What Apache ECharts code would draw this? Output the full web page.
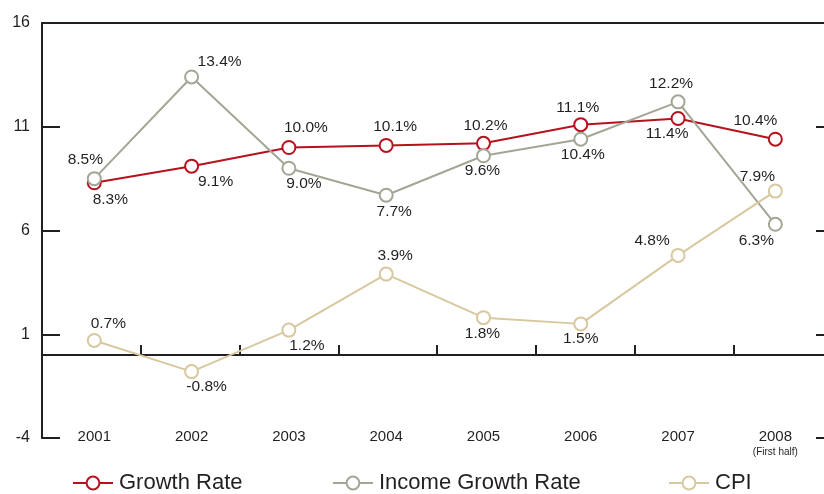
<!DOCTYPE html>
<html>
<head>
<meta charset="utf-8">
<script src="https://cdn.jsdelivr.net/npm/echarts@6/dist/echarts.min.js"></script>
<style>
  html, body { margin: 0; padding: 0; background: #fff; }
  #chart { width: 824px; height: 494px; }
</style>
</head>
<body>
<div id="chart"></div>
<script>
// ---- data ----
const years = ['2001', '2002', '2003', '2004', '2005', '2006', '2007', '2008'];
const yearNotes = ['', '', '', '', '', '', '', '(First half)'];
const growthRate = [8.3, 9.1, 10.0, 10.1, 10.2, 11.1, 11.4, 10.4];
const incomeGrowthRate = [8.5, 13.4, 9.0, 7.7, 9.6, 10.4, 12.2, 6.3];
const cpi = [0.7, -0.8, 1.2, 3.9, 1.8, 1.5, 4.8, 7.9];
const yMin = -4, yMax = 16, yStep = 5;
const seriesNames = ['Growth Rate', 'Income Growth Rate', 'CPI'];

// ---- label placement (pixel offsets from each marker) ----
const growthOffsets = [[16,17],[24,16],[17,-20],[9,-19],[2,-18],[-3,-17],[-11,15],[-20,-18]];
const incomeOffsets = [[-9,-19],[28,-15],[15,15],[8,16],[-1,15],[2,16],[-7,-18],[-19,16]];
const cpiOffsets = [[14,-17],[15,15],[18,16],[9,-18],[-1,16],[0,15],[-26,-15],[-18,-14]];

const colors = ['#B5121E', '#A5A596', '#D8C89F'];
const ink = '#231F20';
const font = '"Liberation Sans", Arial, Helvetica, sans-serif';

function buildData(values, offsets) {
  return values.map((v, i) => ({ value: v, label: { offset: offsets[i] } }));
}

function makeSeries(name, values, offsets, color) {
  return {
    name: name,
    type: 'line',
    xAxisIndex: 2,
    yAxisIndex: 2,
    data: buildData(values, offsets),
    symbol: 'emptyCircle',
    symbolSize: 13,
    itemStyle: { color: color, borderWidth: 2 },
    lineStyle: { color: color, width: 2 },
    label: {
      show: true,
      position: 'inside',
      color: ink,
      fontSize: 15.5,
      fontFamily: font,
      formatter: p => p.value.toFixed(1) + '%'
    },
    emphasis: { disabled: true },
    animation: false
  };
}

const chart = echarts.init(document.getElementById('chart'), null, { renderer: 'canvas' });

const frameMax = 782 / 98.8;
const legendLefts = [67, 327, 663];

chart.setOption({
  animation: false,
  textStyle: { fontFamily: font },
  grid: [
    { left: 42, right: 0, top: 23, bottom: 56 },
    { left: 45.65, width: 789.6, top: 23, bottom: 56 }
  ],
  legend: seriesNames.map((n, i) => ({
    data: [n],
    left: legendLefts[i],
    top: 467,
    itemWidth: 40,
    itemHeight: 16,
    textStyle: { fontSize: 22, color: ink, fontFamily: font, padding: [0, 0, 0, 1] },
    selectedMode: false
  })),
  xAxis: [
    {
      gridIndex: 0, type: 'value', min: 0, max: frameMax, interval: 1,
      axisLine: { show: true, onZero: true, onZeroAxisIndex: 0, lineStyle: { color: ink, width: 2 } },
      axisTick: { show: true, inside: true, length: 10, lineStyle: { color: ink, width: 2 },
                  customValues: [1, 2, 3, 4, 5, 6, 7] },
      axisLabel: { show: false },
      splitLine: { show: false }
    },
    {
      gridIndex: 0, type: 'value', min: 0, max: frameMax, position: 'top',
      axisLine: { show: true, onZero: false, lineStyle: { color: ink, width: 2 } },
      axisTick: { show: false },
      axisLabel: { show: false },
      splitLine: { show: false }
    },
    {
      gridIndex: 1, type: 'category', data: years, boundaryGap: true,
      axisLine: { show: false },
      axisTick: { show: false },
      splitLine: { show: false },
      axisLabel: {
        show: true,
        interval: 0,
        margin: -9,
        color: ink,
        fontSize: 15,
        lineHeight: 16,
        fontFamily: font,
        formatter: (v, i) => yearNotes[i] ? v + '\n{s|' + yearNotes[i] + '}' : v,
        rich: { s: { fontSize: 10, lineHeight: 14, color: ink, fontFamily: font } }
      }
    }
  ],
  yAxis: [
    {
      gridIndex: 0, type: 'value', min: yMin, max: yMax, interval: yStep, position: 'left',
      axisLine: { show: true, onZero: false, lineStyle: { color: ink, width: 2 } },
      axisTick: { show: true, inside: true, length: 18, lineStyle: { color: ink, width: 2 } },
      axisLabel: { show: true, margin: 12, color: ink, fontSize: 16, fontFamily: font },
      splitLine: { show: false }
    },
    {
      gridIndex: 0, type: 'value', min: yMin, max: yMax, interval: yStep, position: 'right',
      axisLine: { show: false, onZero: false },
      axisTick: { show: true, inside: true, length: 8, lineStyle: { color: ink, width: 2 } },
      axisLabel: { show: false },
      splitLine: { show: false }
    },
    {
      gridIndex: 1, type: 'value', min: yMin, max: yMax, interval: yStep, show: false,
      splitLine: { show: false }
    }
  ],
  series: [
    makeSeries(seriesNames[0], growthRate, growthOffsets, colors[0]),
    makeSeries(seriesNames[1], incomeGrowthRate, incomeOffsets, colors[1]),
    makeSeries(seriesNames[2], cpi, cpiOffsets, colors[2])
  ]
});
</script>
</body>
</html>
